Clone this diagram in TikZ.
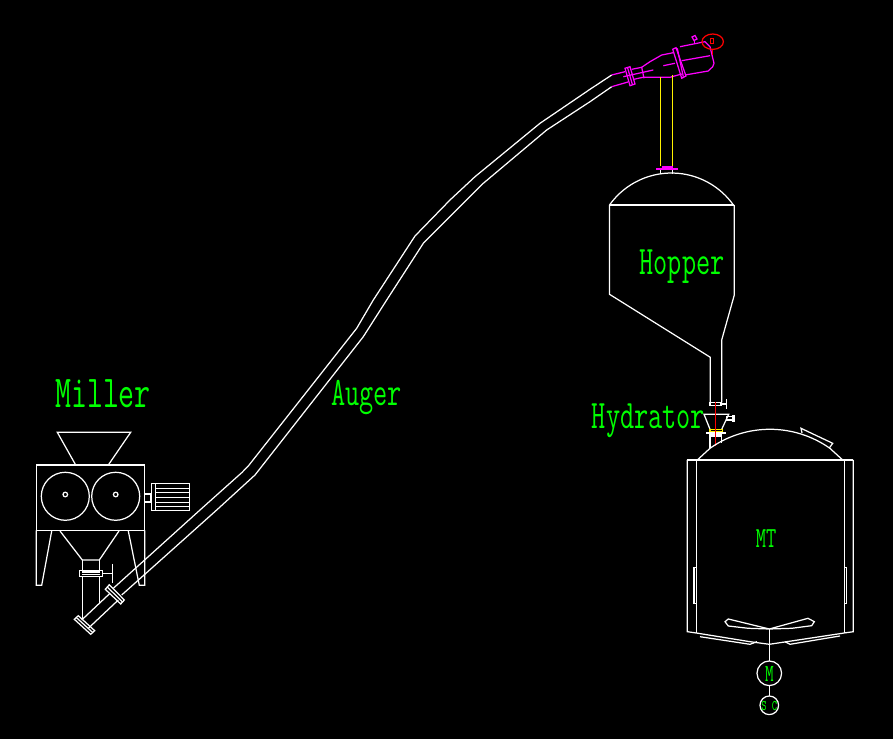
\documentclass[tikz,border=0pt]{standalone}
\usepackage{tikz}
\definecolor{cadgreen}{RGB}{0,255,0}
\definecolor{cadpink}{RGB}{255,0,255}
\tikzset{cadlabel/.style={text=cadgreen,font=\ttfamily,inner sep=0pt,transform shape,xscale=.68}}
\tikzset{cadline/.style={draw=white,line width=.7pt}}
\tikzset{pinkline/.style={draw=cadpink,line width=.7pt}}
\tikzset{redline/.style={draw=red,line width=.7pt}}
\tikzset{yellowline/.style={draw=yellow,line width=.7pt}}

\begin{document}
\begin{tikzpicture}[x=0.02cm,y=-0.02cm]
            \fill[black] (0,0) rectangle (893,739);
            \useasboundingbox (0,0) rectangle (893,739);
            % miller: hopper, box, rollers
            \draw[cadline] (75.7,465) -- (57.3,432.3) -- (130.7,432.3) -- (108.3,465);
            \draw[cadline] (36.3,465) rectangle (144.7,530.3);
            \foreach \cx in {65.3,115.7} {
                \draw[cadline] (\cx,496.3) circle (24);
                \draw[cadline] (\cx,494.5) circle (2.3);
            }
            % miller: legs
            \draw[cadline] (36.3,530.3) -- (36.3,585.3) -- (41.7,585.3) -- (51.7,531);
            \draw[cadline] (144.7,530.3) -- (144.7,585.3) -- (139.3,585.3) -- (128.3,531);
            % miller: outlet
            \draw[cadline] (60,531) -- (82.3,560) -- (99.3,560) -- (119,531);
            \draw[cadline] (82.3,560) -- (82.3,620);
            \draw[cadline] (99.3,560) -- (99.3,602.7);
            \draw[cadline,fill=black] (79.3,570.3) rectangle (102.7,576.3);
            \draw[cadline] (82,572) -- (100,572);
            \draw[cadline] (82,574.5) -- (100,574.5);
            \draw[cadline] (102.7,573.3) -- (112.7,573.3);
            \draw[cadline] (112.7,564) -- (112.7,582.7);
            % motor
            \draw[cadline] (144.7,494) rectangle (150.7,502);
            \draw[cadline] (151.3,483.3) rectangle (189.7,510.7);
            \draw[cadline] (155.3,483.3) -- (155.3,510.7);
            \foreach \fy in {488.3,492.7,497.7,502.3,506.7} {
                \draw[cadline] (155.3,\fy) -- (189.7,\fy);
            }
            % auger, lower end
            \draw[cadline,fill=black] (74.3,619.3) -- (78.3,615.7) -- (94.7,630.7) -- (90.7,634.3) -- cycle;
            \draw[cadline] (76.3,617.5) -- (92.7,632.5);
            \draw[cadline,fill=black] (105.3,589.3) -- (109.3,584.7) -- (124.3,600) -- (120.7,604) -- cycle;
            \draw[cadline] (107.3,587) -- (122.5,602);
            \draw[cadline] (81.7,620) -- (110,593.3);
            \draw[cadline] (88.3,628.3) -- (118.3,600);
            % auger
            \draw[cadline] (113.3,588.3) -- (200,510) -- (241.7,472.7) -- (248.3,466) -- (356.7,328.3) -- (373.3,300)
                -- (415,236) -- (450,200) -- (475,176.7) -- (540,123.3) -- (590,89.3) -- (611.7,75);
            \draw[cadline] (121.7,595) -- (216.7,510) -- (255,475) -- (363.3,336.7) -- (386.7,300)
                -- (423.3,243.3) -- (458.3,208.3) -- (483.3,183.3) -- (546.7,130) -- (590,101.7) -- (611.7,86.7);
            % discharge head
            \draw[pinkline] (611.7,75) -- (625,71.7);
            \draw[pinkline] (611.7,86.7) -- (628,82);
            \draw[pinkline] (625,68.3) -- (630,66.7) -- (635,84) -- (630,85.7) -- cycle;
            \draw[pinkline] (627.5,67.5) -- (632.5,85);
            \draw[pinkline] (623.3,76.7) -- (653.3,70);
            \draw[pinkline] (631.7,69.3) -- (641.7,67.3) -- (644,78.3);
            \draw[pinkline] (633,79.5) -- (643,77.3) -- (670,77.3) -- (681.7,74);
            \draw[pinkline] (641.7,67.3) -- (650,61.7) -- (661.7,55) -- (673.3,52.7);
            \draw[pinkline] (663.3,65.7) -- (675,63.3);
            \draw[pinkline] (672.7,49.3) -- (676,47.7) -- (686,76) -- (681.7,78.3) -- cycle;
            \draw[pinkline] (677.3,48.3) -- (683.3,76.7);
            \draw[pinkline] (680,46.7) -- (705,41.7) -- (710,46.7) -- (714,63.3) -- (712.7,66.7) -- (708.3,71) -- (685,75);
            \draw[pinkline] (681.7,60.7) -- (710,55.7);
            \draw[pinkline] (692,37) -- (695,35.5) -- (697,39) -- (694,40.5) -- cycle;
            \draw[pinkline] (694.5,40.5) -- (694.5,43.5);
            % level sensor
            \draw[redline] (712.7,41.7) ellipse (10.7 and 7.7);
            \draw[redline] (710.3,38.3) rectangle (713.7,43.7);
            \draw[redline] (712.7,49.3) -- (712.7,55);
            % feed pipe
            \draw[yellowline] (660.3,77.3) -- (660.3,166);
            \draw[yellowline] (672.3,75) -- (672.3,166);
            \fill[cadpink] (661.7,165.7) rectangle (673.3,167.7);
            \fill[cadpink] (656,167.7) rectangle (677.7,170);
            \draw[cadline] (660.3,170) -- (660.3,174);
            \draw[cadline] (672.3,170) -- (672.3,174);
            % hopper
            \draw[cadline] (609.5,205) arc (215.4:324.6:76);
            \draw[cadline] (609.5,205) -- (734.3,205);
            \draw[cadline] (609.5,205) -- (609.5,294.3) -- (710.3,357.3) -- (710.3,402.3);
            \draw[cadline] (734.3,205) -- (734.3,295) -- (721.7,340) -- (721.7,402.3);
            % hydrator
            \draw[cadline,fill=white] (709.3,402.3) rectangle (721.7,405.7);
            \fill[black] (711,403.4) rectangle (720,404.6);
            \draw[cadline] (721.7,404) -- (726.7,404);
            \draw[cadline] (726.7,399) -- (726.7,409);
            \draw[cadline] (710,429.3) -- (704,414.3) -- (728.7,414.3) -- (721.7,429.3);
            \draw[cadline] (726.7,416.7) rectangle (732.3,420);
            \fill[white] (732.3,415) rectangle (734.7,421.7);
            \draw[yellowline] (710,429.3) rectangle (722.3,431.7);
            \fill[white] (706,431.7) rectangle (725.7,434);
            \draw[cadline] (709.3,435) rectangle (721.7,436.7);
            \draw[cadline] (710,436.7) -- (710,448.3);
            \draw[cadline] (721.7,436.7) -- (721.7,443.3);
            \draw[redline] (715.3,401.7) -- (715.3,445.7);
            % tank
            \draw[cadline] (697.3,460) -- (710,448.3) arc (234.8:305.2:104) -- (842.7,460);
            \draw[cadline] (687.3,460) -- (853.3,460);
            \draw[cadline] (687.3,460) -- (687.3,631.7) -- (696.3,633);
            \draw[cadline] (696.3,460) -- (696.3,633);
            \draw[cadline] (853.3,460) -- (853.3,631.7) -- (844.3,633);
            \draw[cadline] (844.3,460) -- (844.3,633);
            \draw[cadline] (694,567.3) rectangle (696.3,603.3);
            \draw[cadline] (844.3,567.3) rectangle (846.7,603.3);
            % manway
            \draw[cadline] (802,433) -- (801,428.3) -- (832.7,443.3) -- (829.5,447.7);
            % tank bottom
            \draw[cadline] (696.3,633) -- (750,641.7) -- (769.3,644.3) -- (786.7,641.7) -- (844.3,633);
            \draw[cadline] (700,636.7) -- (750,644.3) -- (757,641.7);
            \draw[cadline] (840,636) -- (790,644.3) -- (785,641.7);
            % agitator
            \draw[cadline] (769.3,629) -- (728.3,619) -- (725,621.7) -- (728.3,626) -- (748.3,628.3) -- (769.3,629);
            \draw[cadline] (769.3,629) -- (808,618.3) -- (814.3,621.7) -- (811.7,625.7) -- (791.7,628.3) -- (769.3,629);
            \draw[cadline] (769.3,629) -- (769.3,661);
            \draw[cadline] (769.3,673.3) circle (12.3);
            \draw[cadline] (769.3,685.6) -- (769.3,696);
            \draw[cadline] (769.3,705.3) circle (9.3);
            % labels
            \node[cadlabel,font=\fontsize{26}{26}\ttfamily] (miller) at (103,394) {Miller};
            \node[cadlabel,font=\fontsize{23}{23}\ttfamily] (hopper) at (682,267) {Hopper};
            \node[cadlabel,font=\fontsize{23}{23}\ttfamily] (hydrator) at (648.5,421) {Hydrator};
            \node[cadlabel,font=\fontsize{23}{23}\ttfamily] (auger) at (366.5,398) {Auger};
            \node[cadlabel,font=\fontsize{16.6}{17}\ttfamily] (mt) at (766,539) {MT};
            \node[cadlabel,font=\fontsize{14}{14}\ttfamily] (motor) at (769.3,674) {M};
            \node[cadlabel,font=\fontsize{8.4}{9}\ttfamily] (sc) at (769.3,706) {S C};
        \end{tikzpicture}
\end{document}
